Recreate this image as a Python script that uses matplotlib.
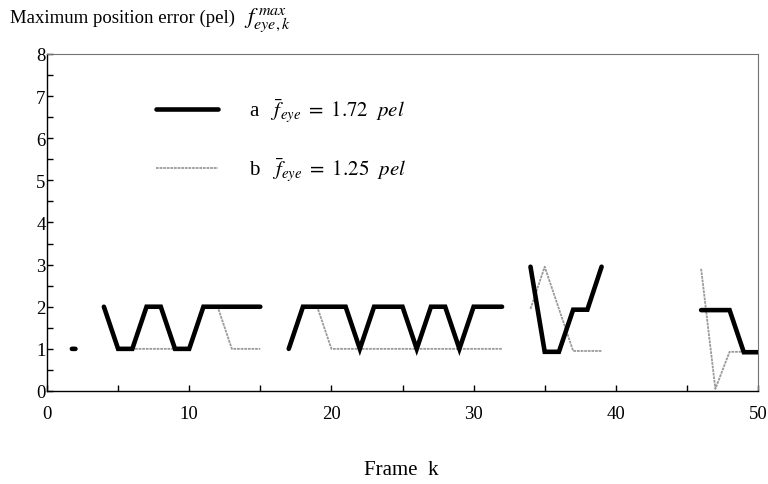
import matplotlib
matplotlib.use("Agg")
import matplotlib.pyplot as plt
import numpy as np
from matplotlib.ticker import MultipleLocator

plt.rcParams['font.family'] = ['Liberation Serif', 'DejaVu Serif']
plt.rcParams['mathtext.fontset'] = 'stix'

nan = np.nan

# frame numbers, NaN breaks the line between measured runs
frame_a = [1.75, 2, nan,
           4, 5, 6, 7, 8, 9, 10, 11, 12, 13, 14, 15, nan,
           17, 18, 19, 20, 21, 22, 23, 24, 25, 26, 27, 28, 29, 30, 31, 32, nan,
           34, 35, 36, 37, 38, 39, nan,
           46, 47, 48, 49, 50]
err_a = [1, 1, nan,
         2, 1, 1, 2, 2, 1, 1, 2, 2, 2, 2, 2, nan,
         1, 2, 2, 2, 2, 1, 2, 2, 2, 1, 2, 2, 1, 2, 2, 2, nan,
         2.95, 0.93, 0.93, 1.93, 1.93, 2.95, nan,
         1.92, 1.92, 1.92, 0.92, 0.92]

frame_b = [4, 5, 6, 7, 8, 9, 10, 11, 12, 13, 14, 15, nan,
           17, 18, 19, 20, 21, 22, 23, 24, 25, 26, 27, 28, 29, 30, 31, 32, nan,
           34, 35, 36, 37, 38, 39, nan,
           46, 47, 48, 49, 50]
err_b = [2, 1, 1, 1, 1, 1, 1, 2, 2, 1, 1, 1, nan,
         1, 2, 2, 1, 1, 1, 1, 1, 1, 1, 1, 1, 1, 1, 1, 1, nan,
         1.95, 2.95, 1.95, 0.95, 0.95, 0.95, nan,
         2.9, 0.05, 0.93, 0.93, 0.93]

label_a = r"a   $\bar{f}_{eye}\ =\ 1.72\ \ pel$"
label_b = r"b   $\bar{f}_{eye}\ =\ 1.25\ \ pel$"

fig = plt.figure(figsize=(7.68, 4.85), dpi=100)
ax = fig.add_axes([0.0612, 0.1918, 0.9258, 0.6948])

ax.plot(frame_b, err_b, color='#9a9a9a', linewidth=1.3, linestyle=(0, (1.5, 0.5)),
        label=label_b, zorder=2)
ax.plot(frame_a, err_a, color='black', linewidth=3.3, solid_joinstyle='miter',
        solid_capstyle='round', label=label_a, zorder=3)

ax.set_xlim(0, 50)
ax.set_ylim(0, 8)
ax.xaxis.set_major_locator(MultipleLocator(10))
ax.xaxis.set_minor_locator(MultipleLocator(5))
ax.yaxis.set_major_locator(MultipleLocator(1))
ax.yaxis.set_minor_locator(MultipleLocator(0.5))
ax.tick_params(which='both', direction='in', length=4, width=1, labelsize=13.5)
ax.tick_params(axis='y', which='both', pad=1)
ax.tick_params(axis='x', which='both', pad=10)

for s in ['left', 'bottom']:
    ax.spines[s].set_linewidth(1.0)
for s in ['top', 'right']:
    ax.spines[s].set_linewidth(0.8)
    ax.spines[s].set_color('0.45')

h, l = ax.get_legend_handles_labels()
ax.legend(h[::-1], l[::-1], loc='upper left', bbox_to_anchor=(0.141, 0.90),
          frameon=False, fontsize=15, handlelength=3.0, handletextpad=1.5,
          labelspacing=1.5, borderaxespad=0)

fig.text(0.013, 0.962, "Maximum position error (pel)", fontsize=13.5,
         va='center', ha='left')
fig.text(0.318, 0.958, r"$f^{\,max}_{eye,k}$", fontsize=16.5,
         va='center', ha='left')
fig.text(0.522, 0.030, "Frame  k", fontsize=15, ha='center', va='center')

fig.savefig("out.png", dpi=100)
